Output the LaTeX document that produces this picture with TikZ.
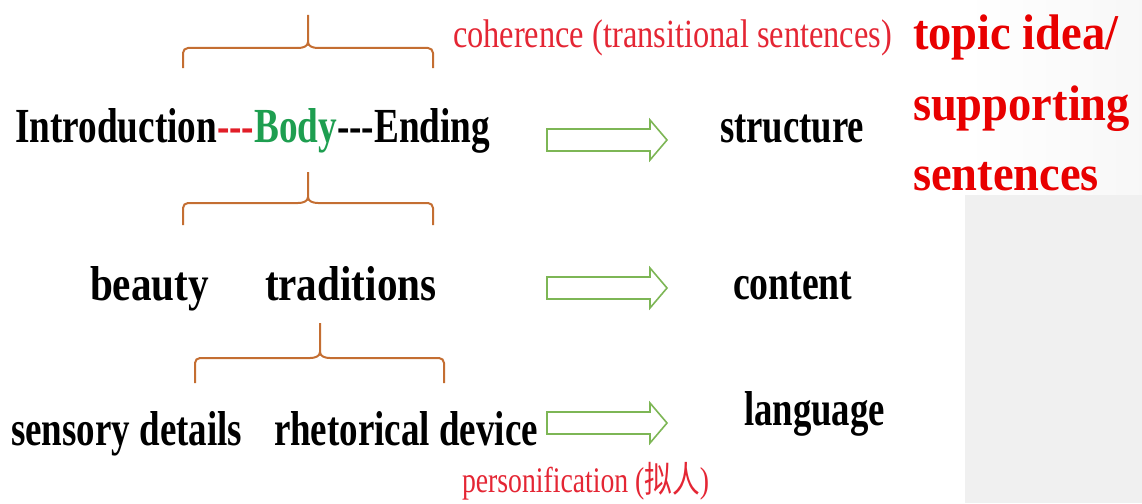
\documentclass[tikz,border=0pt]{standalone}
\usepackage{fontspec}
\usepackage{graphicx}
\newfontfamily\tnr{Liberation Serif}
\newfontfamily\cjk{Noto Sans CJK SC}
\definecolor{brc}{RGB}{196,110,50}
\definecolor{arg}{RGB}{125,182,85}
\definecolor{bodyg}{RGB}{30,158,80}
\definecolor{dashr}{RGB}{225,30,40}
\definecolor{smr}{RGB}{228,38,52}
\definecolor{bigr}{RGB}{232,0,0}
\definecolor{panel}{RGB}{240,240,240}
\newcommand\sx[2]{\scalebox{#1}[1]{#2}}
\newcommand\hy{\mbox{-}}
\tikzset{
  lbl/.style={anchor=base west, inner sep=0pt, outer sep=0pt, font=\tnr\bfseries\fontsize{49}{49}\selectfont},
  big/.style={anchor=base west, inner sep=0pt, outer sep=0pt, text=bigr, font=\tnr\bfseries\fontsize{50}{50}\selectfont},
  note/.style={anchor=base west, inner sep=0pt, outer sep=0pt, text=smr, font=\tnr\fontsize{40}{40}\selectfont},
  brace/.style={draw=brc, line width=2pt, rounded corners=5pt},
  tick/.style={draw=brc, line width=2pt},
  hollow/.style={draw=arg, line width=1.6pt, fill=white, line join=miter},
}
\begin{document}
\begin{tikzpicture}[x=1pt,y=-1pt]
\useasboundingbox (0,0) rectangle (1142,503);
% background panel
\shade[left color=white, right color=gray!6] (965,0) rectangle (1142,195);
\fill[panel] (965,195) rectangle (1142,503);

% braces
\foreach \l/\r/\c/\bar/\bot/\top in {183/433/308/48/68/15, 183/433/308/203/225/172, 195/444/320/358/383/323}{
  \draw[brace] (\l,\bot) -- (\l,\bar) -- (\c-10,\bar);
  \draw[brace] (\r,\bot) -- (\r,\bar) -- (\c+10,\bar);
  \draw[tick] (\c-10,\bar) to[out=0,in=-90] (\c,\bar-6) -- (\c,\top);
  \draw[tick] (\c+10,\bar) to[out=180,in=-90] (\c,\bar-6);
}

% hollow block arrows
\foreach \y in {140,288,423}{
  \draw[hollow] (547,\y-11) -- (650,\y-11) -- (650,\y-20) -- (667,\y) -- (650,\y+20) -- (650,\y+11) -- (547,\y+11) -- cycle;
}

% left column
\node[lbl] (ibe) at (15,142) {\sx{0.76}{Introduction\textcolor{dashr}{\hy\hy\hy}\textcolor{bodyg}{Body}\hy\hy\hy Ending}};
\node[lbl] (beauty) at (90,300) {\sx{0.84}{beauty}};
\node[lbl] (trad) at (265,300) {\sx{0.84}{traditions}};
\node[lbl] (sens) at (11,445) {\sx{0.755}{sensory details}};
\node[lbl] (rhet) at (274,445) {\sx{0.755}{rhetorical device}};

% right column
\node[lbl] (struct) at (720,142) {\sx{0.75}{structure}};
\node[lbl] (cont) at (733,299) {\sx{0.77}{content}};
\node[lbl] (lang) at (744,425) {\sx{0.75}{language}};

% red notes
\node[note] (coh) at (453,48) {\sx{0.81}{coherence (transitional sentences)}};
\node[note, font=\tnr\fontsize{36}{36}\selectfont] (pers) at (462,492) {\sx{0.77}{personification ({\cjk 拟人})}};

% big red text
\node[big] (t1) at (913,50) {\sx{0.93}{topic idea/}};
\node[big] (t2) at (913,120) {\sx{0.93}{supporting}};
\node[big] (t3) at (913,190) {\sx{0.93}{sentences}};
\end{tikzpicture}
\end{document}
